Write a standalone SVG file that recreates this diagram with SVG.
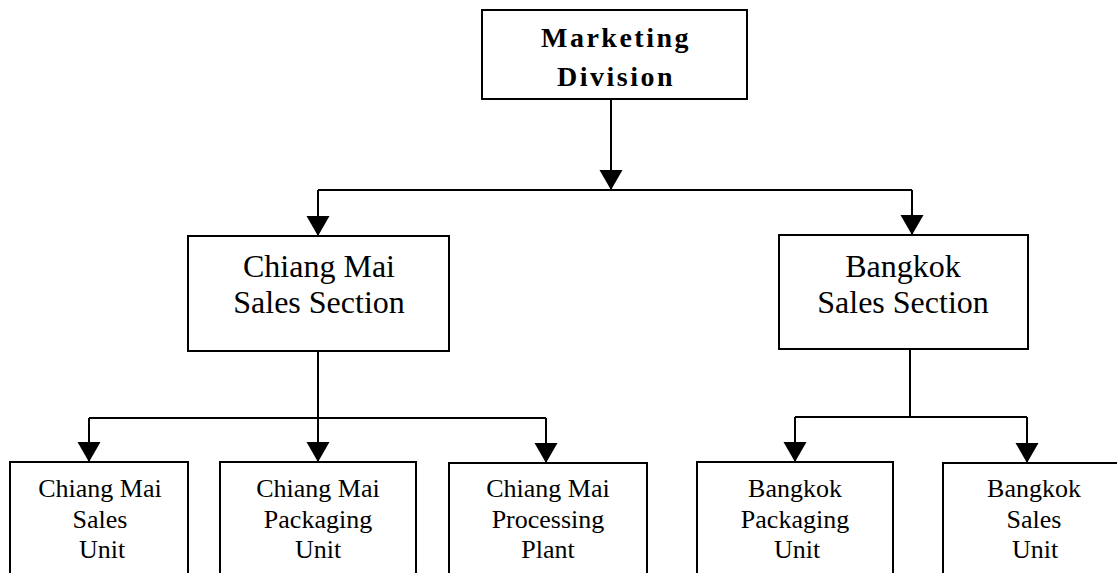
<svg xmlns="http://www.w3.org/2000/svg" width="1117" height="573" viewBox="0 0 1117 573">
<style>
.box{fill:#fff;stroke:#000;stroke-width:2}
.t{font-family:"Liberation Serif","Times New Roman",serif;fill:#000;text-anchor:middle}
.t32{font-size:32px}
.t26{font-size:26px}
.tb{font-size:28px;font-weight:bold;letter-spacing:2.5px}
.c{fill:none;stroke:#000;stroke-width:2}
</style>
<defs>
<marker id="ah" viewBox="0 -12 20 24" refX="20" refY="0" markerWidth="20" markerHeight="24" markerUnits="userSpaceOnUse" orient="auto">
<path d="M0,-11.5 L20,0 L0,11.5 z" fill="#000"/>
</marker>
</defs>
<rect width="1117" height="573" fill="#fff"/>
<g id="connectors">
<path class="c" d="M611,99 V190" marker-end="url(#ah)"/>
<path class="c" d="M318,190 H912"/>
<path class="c" d="M318,190 V236" marker-end="url(#ah)"/>
<path class="c" d="M912,190 V235" marker-end="url(#ah)"/>
<path class="c" d="M318,351 V462" marker-end="url(#ah)"/>
<path class="c" d="M89,418 H546"/>
<path class="c" d="M89,418 V462" marker-end="url(#ah)"/>
<path class="c" d="M546,418 V463" marker-end="url(#ah)"/>
<path class="c" d="M910,349 V417"/>
<path class="c" d="M795,417 H1027"/>
<path class="c" d="M795,417 V462" marker-end="url(#ah)"/>
<path class="c" d="M1027,417 V463" marker-end="url(#ah)"/>
</g>
<g id="marketing-division">
<rect class="box" x="482" y="10" width="265" height="89"/>
<text class="t tb" x="616" y="47">Marketing</text>
<text class="t tb" x="616" y="86">Division</text>
</g>
<g id="chiang-mai-sales-section">
<rect class="box" x="188" y="236" width="261" height="115"/>
<text class="t t32" x="319" y="277">Chiang Mai</text>
<text class="t t32" x="319" y="313">Sales Section</text>
</g>
<g id="bangkok-sales-section">
<rect class="box" x="779" y="235" width="249" height="114"/>
<text class="t t32" x="903" y="277">Bangkok</text>
<text class="t t32" x="903" y="313">Sales Section</text>
</g>
<g id="chiang-mai-sales-unit">
<rect class="box" x="10" y="462" width="178" height="130"/>
<text class="t t26" x="100" y="497">Chiang Mai</text>
<text class="t t26" x="100" y="528">Sales</text>
<text class="t t26" x="102" y="558">Unit</text>
</g>
<g id="chiang-mai-packaging-unit">
<rect class="box" x="220" y="462" width="196" height="130"/>
<text class="t t26" x="318" y="497">Chiang Mai</text>
<text class="t t26" x="318" y="528">Packaging</text>
<text class="t t26" x="318" y="558">Unit</text>
</g>
<g id="chiang-mai-processing-plant">
<rect class="box" x="449" y="463" width="198" height="130"/>
<text class="t t26" x="548" y="497">Chiang Mai</text>
<text class="t t26" x="548" y="528">Processing</text>
<text class="t t26" x="548" y="558">Plant</text>
</g>
<g id="bangkok-packaging-unit">
<rect class="box" x="697" y="462" width="196" height="130"/>
<text class="t t26" x="795" y="497">Bangkok</text>
<text class="t t26" x="795" y="528">Packaging</text>
<text class="t t26" x="797" y="558">Unit</text>
</g>
<g id="bangkok-sales-unit">
<rect class="box" x="943" y="463" width="190" height="130"/>
<text class="t t26" x="1034" y="497">Bangkok</text>
<text class="t t26" x="1034" y="528">Sales</text>
<text class="t t26" x="1035" y="558">Unit</text>
</g>
</svg>
